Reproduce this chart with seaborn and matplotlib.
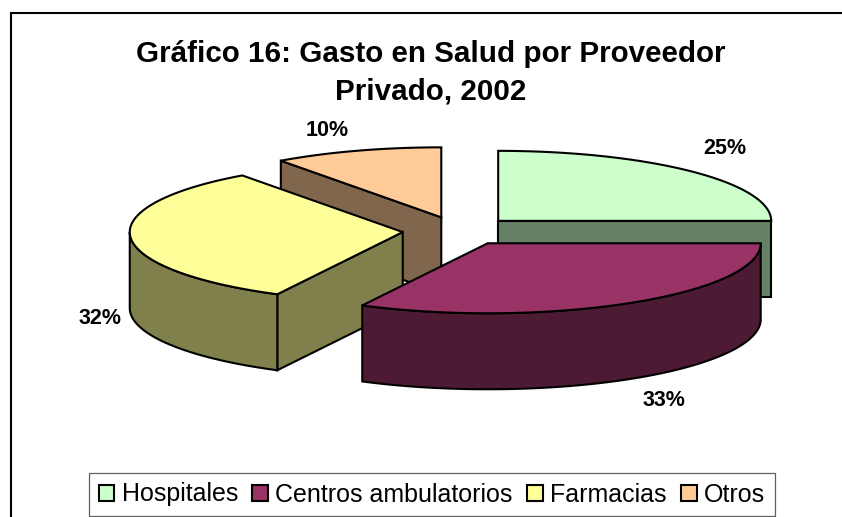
import numpy as np
import matplotlib
matplotlib.use('Agg')
import matplotlib.pyplot as plt
from matplotlib.patches import Patch, Polygon
import seaborn as sns

# Values
categories = ['Hospitales', 'Centros ambulatorios', 'Farmacias', 'Otros']
values = [25, 32.6, 32.4, 10]
colors = ['#CCFFCC', '#993366', '#FFFF99', '#FFCC99']

sns.set_theme(style='white')
plt.rcParams['font.family'] = ['Liberation Sans', 'DejaVu Sans']

# Pie geometry in pixels of the image
cx, cy = 458.6, 231
rx, ry = 273, 70
explode = 56
depth = 76
line_w = 1.5

label_xy = [(725, 149), (664, 401), (100, 318), (327, 130)]
draw_order = [3, 0, 2, 1]

palette = sns.color_palette(colors)
shades = [tuple(c * 0.5 for c in col) for col in palette]

fig, ax = plt.subplots(figsize=(8.42, 5.17), dpi=100)
fig.subplots_adjust(0, 0, 1, 1)
ax.set_xlim(0, 842)
ax.set_ylim(517, 0)
ax.axis('off')

# Chart frame, only left and top are inside the image
ax.plot([11, 11, 842], [517, 13, 13], color='black', lw=1.5, solid_joinstyle='miter', zorder=1)


def rim(x0, y0, a0, a1):
    # points on the ellipse, angles clockwise from 12 o'clock
    t = np.radians(np.linspace(a0, a1, 120))
    return np.column_stack([x0 + rx * np.sin(t), y0 - ry * np.cos(t)])


edges = np.cumsum([0] + values) / sum(values) * 360
z = 2
for i in draw_order:
    a0, a1 = edges[i], edges[i + 1]
    mid = np.radians((a0 + a1) / 2)
    x0 = cx + explode * np.sin(mid)
    y0 = cy - explode * ry / rx * np.cos(mid)
    drop = np.array([0, depth])
    apex = np.array([[x0, y0]])

    # cut faces turned to the viewer
    for ang, visible in [(a0, np.sin(np.radians(a0)) < -1e-6), (a1, np.sin(np.radians(a1)) > 1e-6)]:
        if visible:
            p = rim(x0, y0, ang, ang)[:1]
            quad = np.vstack([apex, p, p + drop, apex + drop])
            ax.add_patch(Polygon(quad, facecolor=shades[i], edgecolor='black', lw=line_w, zorder=z))
            z += 1

    # outer wall, front half of the ellipse only
    lo, hi = max(a0, 90), min(a1, 270)
    if lo < hi:
        arc = rim(x0, y0, lo, hi)
        wall = np.vstack([arc, (arc + drop)[::-1]])
        ax.add_patch(Polygon(wall, facecolor=shades[i], edgecolor='black', lw=line_w, zorder=z))
        z += 1

    # top face
    top = np.vstack([apex, rim(x0, y0, a0, a1)])
    ax.add_patch(Polygon(top, facecolor=palette[i], edgecolor='black', lw=line_w, zorder=z))
    z += 1

for v, (lx, ly) in zip(values, label_xy):
    ax.text(lx, ly, f'{v:.0f}%', ha='center', va='center', fontsize=15.5, fontweight='bold',
            color='black', zorder=50)

ax.text(431, 73, 'Gráfico 16: Gasto en Salud por Proveedor\nPrivado, 2002', ha='center', va='center',
        fontsize=21.3, fontweight='bold', color='black', linespacing=1.42, zorder=50)

handles = [Patch(facecolor=c, edgecolor='black', lw=line_w) for c in palette]
leg = ax.legend(handles, categories, ncol=4, loc='center', bbox_to_anchor=(432, 494.5),
                bbox_transform=ax.transData, fontsize=18, frameon=True, fancybox=False,
                framealpha=1, edgecolor='#606060', labelcolor='black',
                handlelength=0.62, handleheight=0.62, handletextpad=0.30,
                columnspacing=0.58, borderpad=0.38, borderaxespad=0)
leg.get_frame().set_linewidth(0.9)
leg.set_zorder(60)

fig.savefig('out.png', dpi=100)
